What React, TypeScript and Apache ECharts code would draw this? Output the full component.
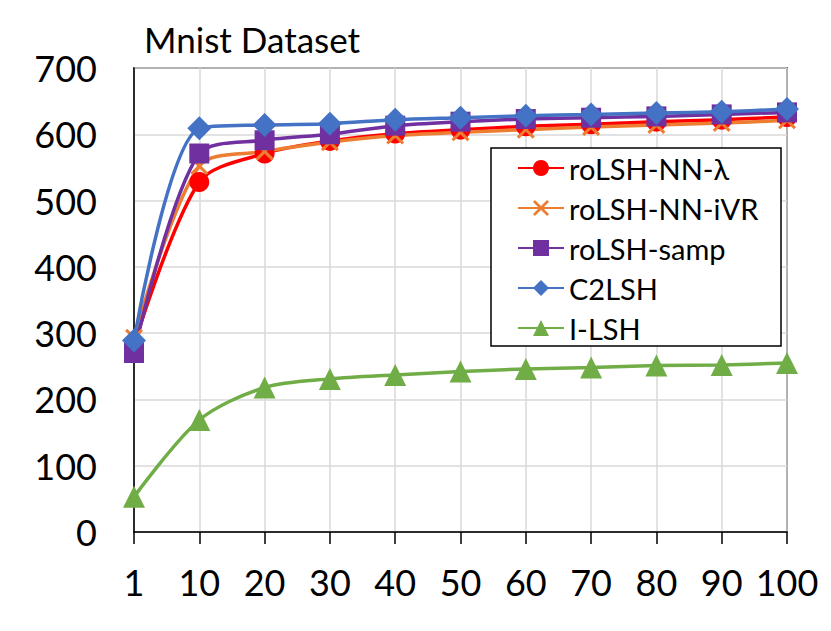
import React, { useEffect, useRef } from "react";
import * as echarts from "echarts";

const categories = ["1", "10", "20", "30", "40", "50", "60", "70", "80", "90", "100"];
const roLSHLambda = [282, 528, 571, 590, 601, 607, 612, 615, 619, 622, 626];
const roLSHiVR = [293, 552, 574, 588, 598, 603, 607, 611, 614, 617, 621];
const roLSHSamp = [270, 571, 591, 600, 613, 619, 623, 625, 627, 630, 633];
const c2LSH = [289, 609, 614, 616, 622, 625, 628, 630, 632, 634, 638];
const iLSH = [53, 169, 218, 231, 237, 242, 246, 248, 251, 252, 255];
const yTicks = { min: 0, max: 700, interval: 100 };

const FONT = "Lato";
const CROSS = "path://M0,1.2 L1.2,0 L5,3.8 L8.8,0 L10,1.2 L6.2,5 L10,8.8 L8.8,10 L5,6.2 L1.2,10 L0,8.8 L3.8,5 Z";

export default function App() {
  const ref = useRef<HTMLDivElement>(null);
  useEffect(() => {
    document.body.style.margin = "0";
    const chart = echarts.init(ref.current!, null, { renderer: "svg" });
    const mk = (name: string, data: number[], color: string, symbol: string, size: number) => ({
      name,
      type: "line",
      data,
      smooth: 0.3,
      symbol,
      symbolSize: size,
      lineStyle: { color, width: 3.5 },
      itemStyle: { color },
      emphasis: { disabled: true },
    });
    chart.setOption({
      animation: false,
      title: {
        text: "Mnist Dataset",
        left: 144,
        top: 21,
        padding: 0,
        textStyle: { fontFamily: FONT, fontSize: 35, fontWeight: "normal", color: "#000" },
      },
      grid: {
        left: 134,
        right: 44,
        top: 68,
        bottom: 99,
        show: true,
        borderColor: "#000",
        borderWidth: 1.5,
      },
      xAxis: {
        type: "category",
        data: categories,
        boundaryGap: false,
        axisLine: { lineStyle: { color: "#000", width: 1.5 } },
        axisTick: { show: true, length: 12, inside: false, interval: 0, lineStyle: { color: "#000", width: 1.5 } },
        axisLabel: { fontFamily: FONT, fontSize: 36, color: "#000", margin: 32, interval: 0 },
        splitLine: { show: true, interval: 0, lineStyle: { color: "#D9D9D9", width: 1.5 } },
      },
      yAxis: {
        type: "value",
        min: yTicks.min,
        max: yTicks.max,
        interval: yTicks.interval,
        axisLine: { show: true, lineStyle: { color: "#000", width: 1.5 } },
        axisTick: { show: false },
        axisLabel: { fontFamily: FONT, fontSize: 36, color: "#000", margin: 37 },
        splitLine: { show: true, lineStyle: { color: "#D9D9D9", width: 1.5 } },
      },
      legend: {
        orient: "vertical",
        left: 517,
        top: 153,
        padding: 0,
        itemWidth: 46,
        itemHeight: 20,
        itemGap: 10,
        textStyle: { fontFamily: FONT, fontSize: 29, color: "#000", lineHeight: 30 },
        z: 10,
      },
      graphic: [
        {
          type: "rect",
          z: 5,
          shape: { x: 491, y: 148, width: 290, height: 198 },
          style: { fill: "#fff", stroke: "#000", lineWidth: 1.5 },
        },
      ],
      series: [
        mk("roLSH-NN-λ", roLSHLambda, "#FF0000", "circle", 20),
        mk("roLSH-NN-iVR", roLSHiVR, "#ED7D31", CROSS, 18),
        mk("roLSH-samp", roLSHSamp, "#7030A0", "rect", 20),
        mk("C2LSH", c2LSH, "#4472C4", "diamond", 24),
        mk("I-LSH", iLSH, "#70AD47", "triangle", 22),
      ],
    });
    return () => chart.dispose();
  }, []);
  return <div ref={ref} style={{ width: 831, height: 631 }} />;
}
